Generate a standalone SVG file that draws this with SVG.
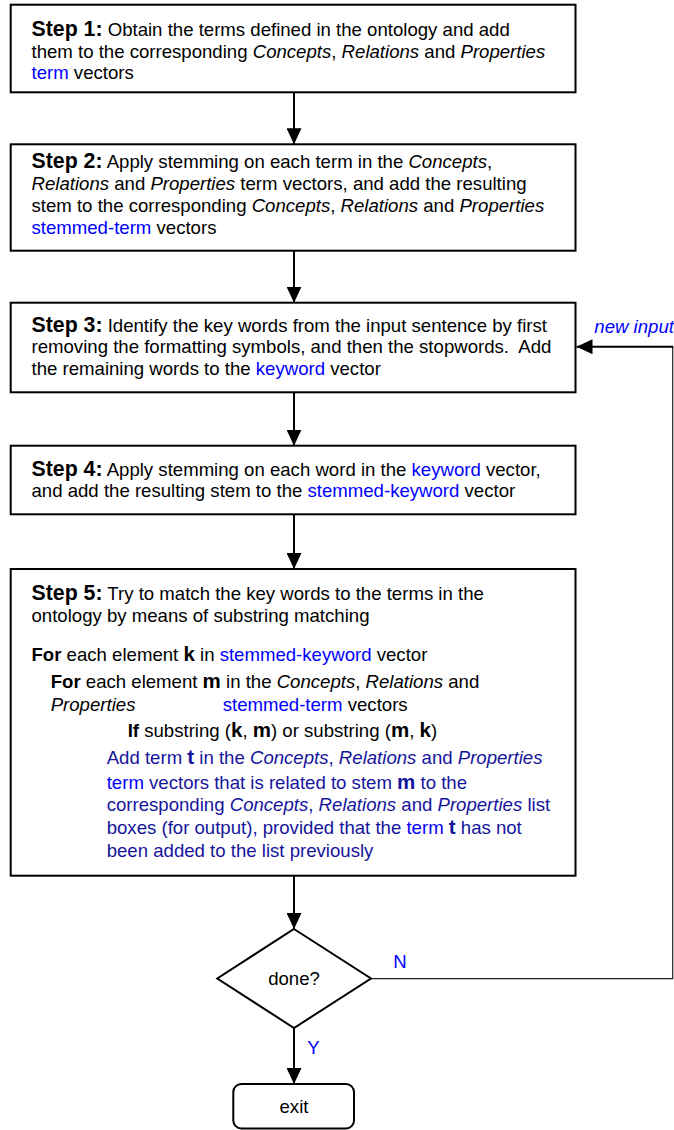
<svg xmlns="http://www.w3.org/2000/svg" width="674" height="1130" viewBox="0 0 674 1130">
  <style>
    text { font-family: "Liberation Sans", Arial, sans-serif; font-size: 18.6px; fill: #000; white-space: pre; }
    .step { font-weight: bold; font-size: 21.3px; }
    .b { font-weight: bold; }
    .big { font-weight: bold; font-size: 20.5px; }
    .i { font-style: italic; }
    .blue { fill: #0000ff; }
    .navy { fill: #15159c; }
    .box { fill: #fff; stroke: #000; stroke-width: 2; }
    .flow { stroke: #000; stroke-width: 2; fill: none; }
    .thin { stroke: #222; stroke-width: 1.2; fill: none; }
  </style>
  <defs>
    <marker id="arrow" viewBox="0 0 16 15" refX="16" refY="7.5" markerWidth="16" markerHeight="15" markerUnits="userSpaceOnUse" orient="auto">
      <path d="M0,0 L16,7.5 L0,15 Z" fill="#000"/>
    </marker>
  </defs>

  <!-- connectors -->
  <g id="connectors">
    <line class="flow" x1="294" y1="92.3" x2="294" y2="144.3" marker-end="url(#arrow)"/>
    <line class="flow" x1="294" y1="250.7" x2="294" y2="302.7" marker-end="url(#arrow)"/>
    <line class="flow" x1="294" y1="392.3" x2="294" y2="445.7" marker-end="url(#arrow)"/>
    <line class="flow" x1="294" y1="514.3" x2="294" y2="569" marker-end="url(#arrow)"/>
    <line class="flow" x1="294" y1="875.7" x2="294" y2="929" marker-end="url(#arrow)"/>
    <line class="flow" x1="294" y1="1028" x2="294" y2="1084" marker-end="url(#arrow)"/>
    <!-- loop back for a new input sentence -->
    <polyline class="thin" points="371,978.7 672.7,978.7 672.7,346.7"/>
    <line class="flow" x1="673.3" y1="346.7" x2="576.5" y2="346.7" marker-end="url(#arrow)"/>
    <text class="i blue" x="594.3" y="333.3">new input</text>
    <text class="blue" x="393.3" y="968.3">N</text>
    <text class="blue" x="307.3" y="1054">Y</text>
  </g>

  <!-- step 1 -->
  <g id="step1">
    <rect class="box" x="10.7" y="4.7" width="564.8" height="87.6"/>
    <text x="31.5" y="36"><tspan class="step">Step 1:</tspan> Obtain the terms defined in the ontology and add</text>
    <text x="31.5" y="58">them to the corresponding <tspan class="i">Concepts</tspan>, <tspan class="i">Relations</tspan> and <tspan class="i">Properties</tspan></text>
    <text x="31.5" y="79"><tspan class="blue">term</tspan> vectors</text>
  </g>

  <!-- step 2 -->
  <g id="step2">
    <rect class="box" x="10.7" y="144.3" width="564.8" height="106.4"/>
    <text x="31.5" y="168.3"><tspan class="step">Step 2:</tspan> Apply stemming on each term in the <tspan class="i">Concepts</tspan>,</text>
    <text x="31.5" y="190"><tspan class="i">Relations</tspan> and <tspan class="i">Properties</tspan> term vectors, and add the resulting</text>
    <text x="31.5" y="212.3">stem to the corresponding <tspan class="i">Concepts</tspan>, <tspan class="i">Relations</tspan> and <tspan class="i">Properties</tspan></text>
    <text x="31.5" y="234"><tspan class="blue">stemmed-term</tspan> vectors</text>
  </g>

  <!-- step 3 -->
  <g id="step3">
    <rect class="box" x="10.7" y="302.7" width="564.8" height="89.6"/>
    <text x="31.5" y="332.3"><tspan class="step">Step 3:</tspan> Identify the key words from the input sentence by first</text>
    <text x="31.5" y="353.3">removing the formatting symbols, and then the stopwords.  Add</text>
    <text x="31.5" y="375">the remaining words to the <tspan class="blue">keyword</tspan> vector</text>
  </g>

  <!-- step 4 -->
  <g id="step4">
    <rect class="box" x="10.7" y="445.7" width="564.8" height="68.6"/>
    <text x="31.5" y="475.7"><tspan class="step">Step 4:</tspan> Apply stemming on each word in the <tspan class="blue">keyword</tspan> vector,</text>
    <text x="31.5" y="496.7">and add the resulting stem to the <tspan class="blue">stemmed-keyword</tspan> vector</text>
  </g>

  <!-- step 5 -->
  <g id="step5">
    <rect class="box" x="10.7" y="569" width="564.8" height="306.7"/>
    <text x="31.5" y="599.5"><tspan class="step">Step 5:</tspan> Try to match the key words to the terms in the</text>
    <text x="31.5" y="622.3">ontology by means of substring matching</text>
    <text x="31.5" y="660.7"><tspan class="b">For</tspan> each element <tspan class="big">k</tspan> in <tspan class="blue">stemmed-keyword</tspan> vector</text>
    <text x="50.7" y="688.3"><tspan class="b">For</tspan> each element <tspan class="big">m</tspan> in the <tspan class="i">Concepts</tspan>, <tspan class="i">Relations</tspan> and</text>
    <text class="i" x="50.7" y="711">Properties</text>
    <text x="222.7" y="711"><tspan class="blue">stemmed-term</tspan> vectors</text>
    <text x="127.7" y="736.7"><tspan class="b">If</tspan> substring (<tspan class="big">k</tspan>, <tspan class="big">m</tspan>) or substring (<tspan class="big">m</tspan>, <tspan class="big">k</tspan>)</text>
    <text class="navy" x="106.7" y="764">Add term <tspan class="big">t</tspan> in the <tspan class="i">Concepts</tspan>, <tspan class="i">Relations</tspan> and <tspan class="i">Properties</tspan></text>
    <text class="navy" x="106.7" y="789"><tspan class="blue">term</tspan> vectors that is related to stem <tspan class="big">m</tspan> to the</text>
    <text class="navy" x="106.7" y="810.7">corresponding <tspan class="i">Concepts</tspan>, <tspan class="i">Relations</tspan> and <tspan class="i">Properties</tspan> list</text>
    <text class="navy" x="106.7" y="834.3">boxes (for output), provided that the <tspan class="blue">term</tspan> <tspan class="big">t</tspan> has not</text>
    <text class="navy" x="106.7" y="856.7">been added to the list previously</text>
  </g>

  <!-- decision -->
  <g id="done">
    <polygon class="box" points="294,929 371,978.5 294,1028 217.3,978.5"/>
    <text x="294" y="984.5" text-anchor="middle" font-size="18">done?</text>
  </g>

  <!-- terminator -->
  <g id="exit">
    <rect class="box" x="233.3" y="1084" width="120.7" height="44.5" rx="8" ry="8"/>
    <text x="294" y="1113.3" text-anchor="middle" font-size="18">exit</text>
  </g>
</svg>
